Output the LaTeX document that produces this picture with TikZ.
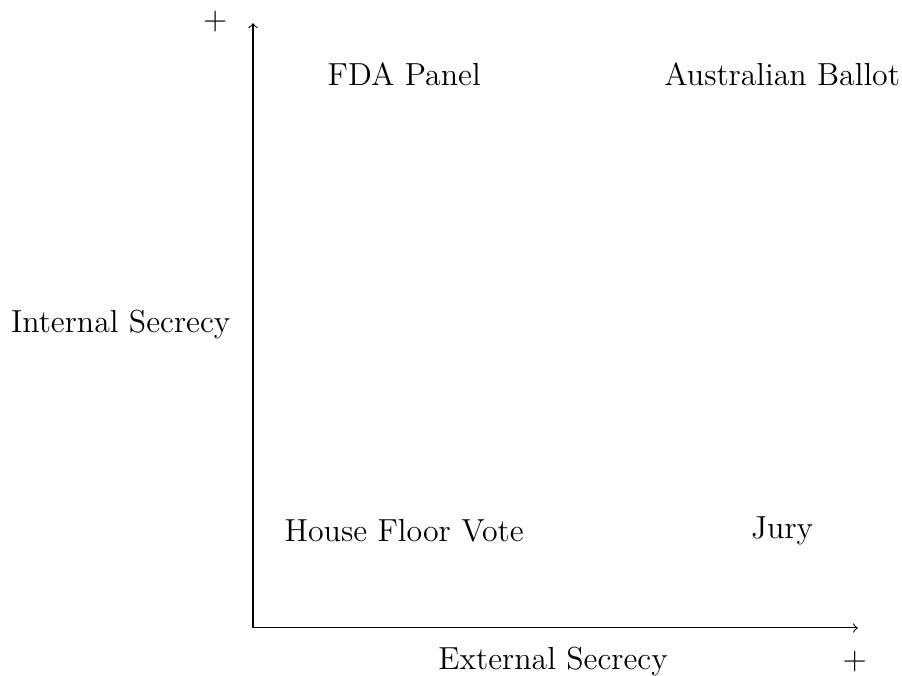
\documentclass[tikz,border=0pt,12pt]{standalone}
\usepackage{tikz}
\usetikzlibrary{calc}

\begin{document}
\begin{tikzpicture}
			%%%%% START %%%%%
			\useasboundingbox (-3.347, -0.635) rectangle (8.585, 8.307);
			
			\coordinate (origin) at (0, 0);
			\coordinate (ytop) at (0, 8);
			\coordinate (xend) at (8, 0);
			
			\draw[->] (origin) -- (ytop);
			\draw[->] (origin) -- (xend);
			
			\node (yplus) at (-0.5, 8.02) {$+$};
			\node (xplus) at (7.96, -0.45) {$+$};
			
			\node (ylabel) at (-1.75, 4.02) {Internal Secrecy};
			\node (xlabel) at (3.97, -0.45) {External Secrecy};
			
			\node (fda) at (2, 7.33) {FDA Panel};
			\node (ballot) at (7, 7.33) {Australian Ballot};
			\node (house) at (2, 1.28) {House Floor Vote};
			\node (jury) at (7, 1.28) {Jury};
			
			%%%%% END %%%%%
		\end{tikzpicture}
\end{document}
